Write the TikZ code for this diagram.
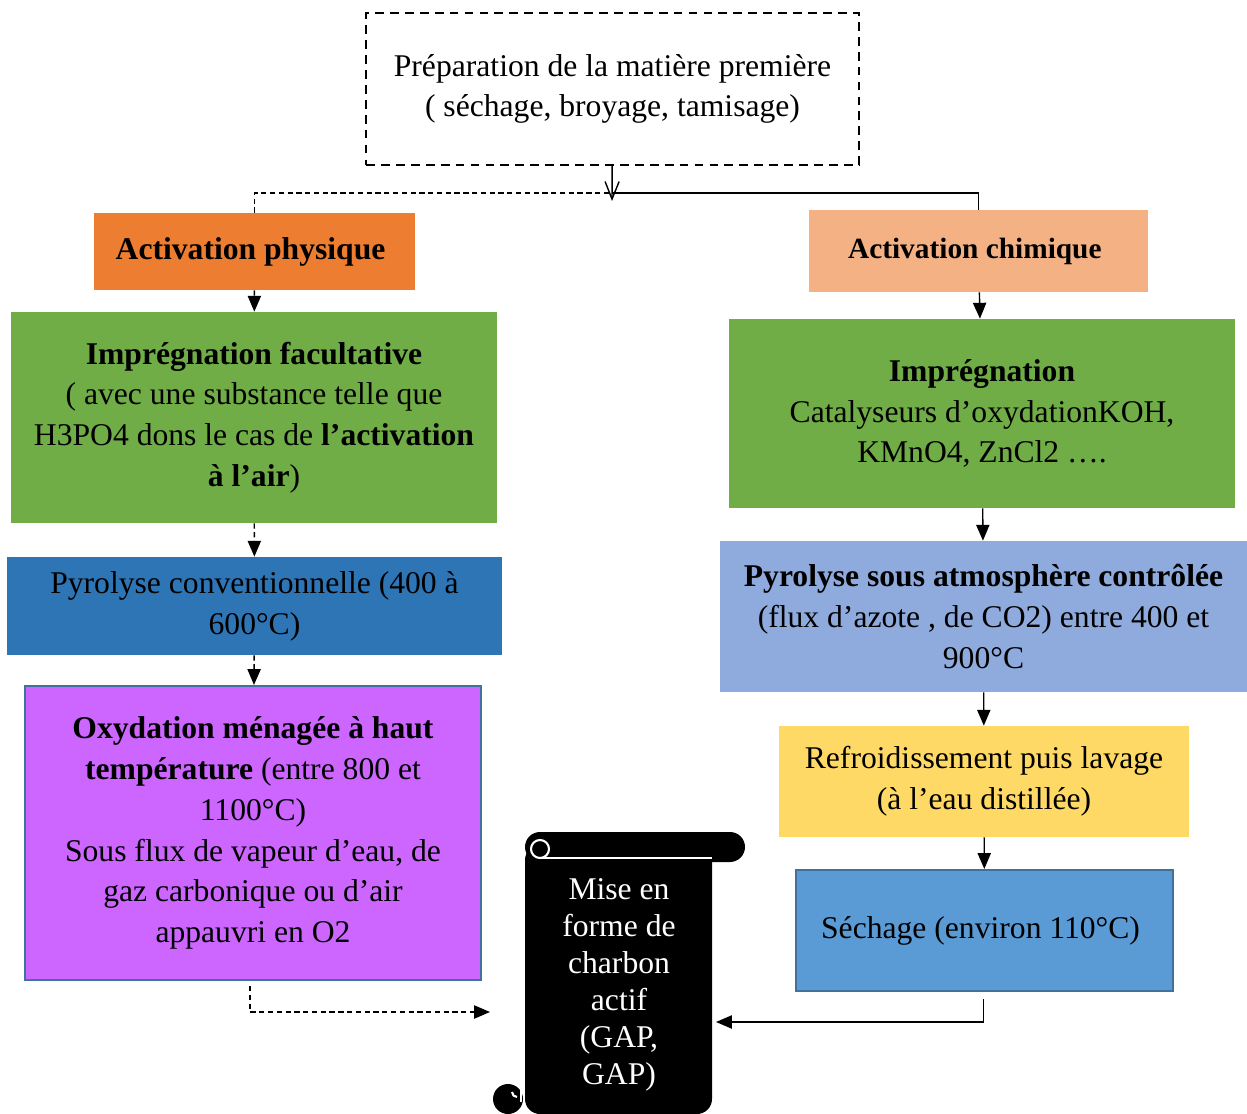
\documentclass[tikz,border=0pt]{standalone}
\usepackage{fontspec}
\setmainfont{Liberation Serif}
\usepackage{tikz}
\usetikzlibrary{positioning,arrows.meta}
\tikzset{c-box/.style={rectangle, inner sep=0pt, align=center, text centered, draw=none, font=\fontsize{18}{23.2}\selectfont, execute at end node={\par\vspace*{-5pt}}},
c-dash/.style={c-box, draw=black, line width=1.2pt, dash pattern=on 5pt off 3.5pt},
arrow/.style={line width=0.8pt,->,>={Stealth[length=9pt,width=7.5pt,inset=0pt]}},
arrow-d/.style={arrow, dash pattern=on 3pt off 2pt},
arrow-o/.style={line width=0.8pt,->,>={Straight Barb[length=10pt,width=8pt]}}}
\definecolor{c_phys}{HTML}{ED7D31}
\definecolor{c_chim}{HTML}{F4B183}
\definecolor{c_imp}{HTML}{70AD47}
\definecolor{c_pyro}{HTML}{2E75B6}
\definecolor{c_atm}{HTML}{8FAADC}
\definecolor{c_oxy}{HTML}{CC66FF}
\definecolor{c_refr}{HTML}{FFD966}
\definecolor{c_sech}{HTML}{5B9BD5}
\definecolor{c_edge}{HTML}{41719C}
\begin{document}
\begin{tikzpicture}[x=0.02cm, y=-0.02cm]
\useasboundingbox (0,0) rectangle (1247,1114);
\node (n0) [c-dash, minimum width=9.86cm, minimum height=3.04cm] at (612.5,89) {
Préparation de la matière première\\
( séchage, broyage, tamisage)
};
\node (n1sx) [c-box, fill=c_phys, minimum width=6.42cm, minimum height=1.54cm] at (254.5,251.5) {
\textbf{Activation physique}
};
\node (n1dx) [c-box, fill=c_chim, minimum width=6.78cm, minimum height=1.64cm, font=\fontsize{16.7}{20}\selectfont] at (978.5,251) {
\textbf{Activation chimique}
};
\node (n2sx) [c-box, fill=c_imp, minimum width=9.72cm, minimum height=4.22cm] at (254,417.5) {
\textbf{Imprégnation facultative}\\
( avec une substance telle que\\
H3PO4 dons le cas de \textbf{l’activation}\\
\textbf{à l’air})
};
\node (n2dx) [c-box, fill=c_imp, minimum width=10.12cm, minimum height=3.78cm] at (982,413.5) {
\textbf{Imprégnation}\\
Catalyseurs d’oxydationKOH,\\
KMnO4, ZnCl2 ….
};
\node (n3sx) [c-box, fill=c_pyro, minimum width=9.9cm, minimum height=1.96cm] at (254.5,606) {
Pyrolyse conventionnelle (400 à\\
600°C)
};
\node (n3dx) [c-box, fill=c_atm, minimum width=10.54cm, minimum height=3.02cm] at (983.5,616.5) {
\textbf{Pyrolyse sous atmosphère contrôlée}\\
(flux d’azote , de CO2) entre 400 et\\
900°C
};
\node (n4sx) [c-box, fill=c_oxy, draw=c_edge, line width=1.2pt, minimum width=9.12cm, minimum height=5.88cm] at (253,833) {
\textbf{Oxydation ménagée à haut}\\
\textbf{température} (entre 800 et\\
1100°C)\\
Sous flux de vapeur d’eau, de\\
gaz carbonique ou d’air\\
appauvri en O2
};
\node (n4dx) [c-box, fill=c_refr, minimum width=8.2cm, minimum height=2.22cm] at (984,781.5) {
Refroidissement puis lavage\\
(à l’eau distillée)
};
\node (n5dx) [c-box, fill=c_sech, draw=c_edge, line width=1.2pt, minimum width=7.54cm, minimum height=2.42cm] at (984.5,930.5) {
Séchage (environ 110°C)
};
% scroll
\fill [black, rounded corners=0.3cm] (525,845) rectangle (712,1114);
\fill [black, rounded corners=0.3cm] (525,832) rectangle (745,862);
\draw [white, line width=1.2pt] (540,849) circle (9);
\draw [white, line width=1.2pt] (540,858) -- (712,858);
\fill [black] (508,1099) circle (15);
\draw [white, line width=1.2pt] (512,1092) arc[start angle=180, end angle=90, radius=5];
\draw [white, line width=1.2pt] (521,1088) -- (521,1102);
\node (n6) [c-box, text=white, font=\fontsize{18}{21}\selectfont] at (619,985) {
Mise en\\forme de\\charbon\\actif\\(GAP,\\GAP)
};
\coordinate (jm) at (612,193);
\coordinate (j0) at (612,201);
\coordinate (s_l) at (490,1012);
\coordinate (s_r) at (716,1022);
\draw [arrow-o] (n0) -- (j0);
\draw [line width=0.8pt, dash pattern=on 3pt off 2pt] (n1sx.north) |- (jm);
\draw [line width=0.8pt] (n1dx.north) |- (jm);
\draw [arrow-d] (n1sx) -- (n2sx);
\draw [arrow-d] (n2sx) -- (n3sx);
\draw [arrow-d] (n3sx) -- (n4sx);
\draw [arrow-d] ([shift={(-3,5)}]n4sx.south) |- (s_l);
\draw [arrow] (n1dx) -- (n2dx);
\draw [arrow] (n2dx) -- (n3dx);
\draw [arrow] (n3dx) -- (n4dx);
\draw [arrow] (n4dx) -- (n5dx);
\draw [arrow] ([shift={(-1,7)}]n5dx.south) |- (s_r);
\end{tikzpicture}
\end{document}
